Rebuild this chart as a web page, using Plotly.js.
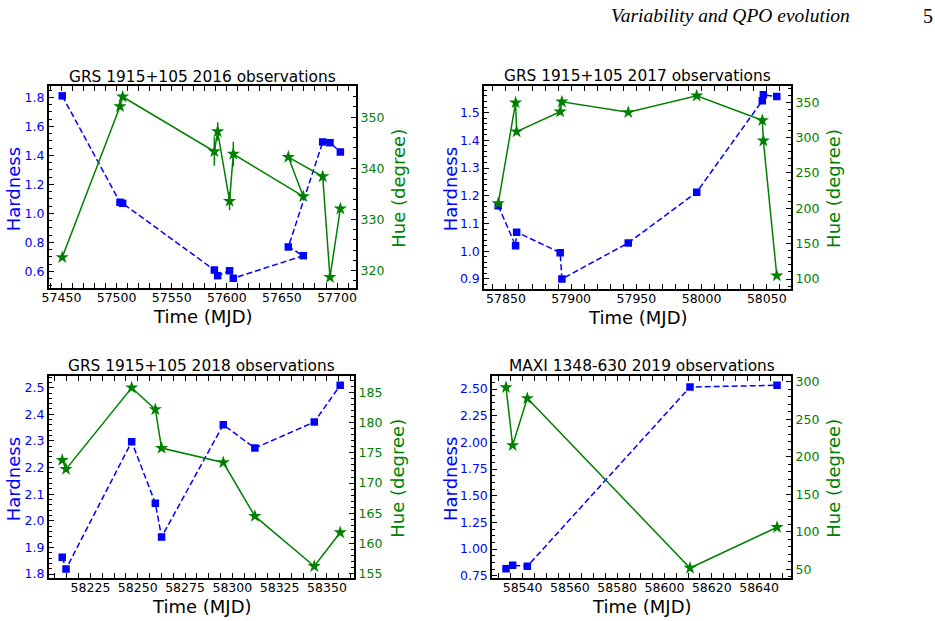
<!DOCTYPE html>
<html>
<head>
<meta charset="utf-8">
<script src="https://cdn.plot.ly/plotly-3.0.1.min.js"></script>
<style>
  html, body { margin: 0; padding: 0; background: #ffffff; }
  #chart { width: 935px; height: 621px; }
</style>
</head>
<body>
<div id="chart"></div>
<script>
// ---- GRS 1915+105, 2016 ----
const mjd16 = [57450.7, 57503.1, 57505.5, 57588.7, 57591.7, 57602.5, 57605.9, 57669.4, 57655.8, 57687.0, 57693.6, 57703.0];
const hard16 = [1.810, 1.076, 1.069, 0.609, 0.570, 0.604, 0.552, 0.708, 0.768, 1.492, 1.487, 1.423];
const hue16 = [322.6, 352.1, 354.0, 343.3, 347.2, 333.6, 342.8, 334.5, 342.2, 338.4, 318.7, 332.1];
const hueErr16 = [0, 0, 0, 2.8, 1.8, 1.8, 2.4, 0, 0, 0, 0, 0];

// ---- GRS 1915+105, 2017 ----
const mjd17 = [57844.1, 57857.4, 57858.2, 57891.6, 57892.9, 57943.8, 57996.3, 58046.6, 58047.4, 58057.7];
const hard17 = [1.164, 1.020, 1.069, 0.995, 0.900, 1.030, 1.213, 1.543, 1.564, 1.558];
const hue17 = [207.1, 349.5, 308.4, 336.7, 350.8, 335.8, 359.3, 324.5, 295.6, 104.7];
const hueErr17 = [0, 0, 0, 0, 0, 0, 0, 0, 0, 0];

// ---- GRS 1915+105, 2018 ----
const mjd18 = [58210.1, 58212.1, 58246.8, 58259.3, 58262.6, 58295.2, 58311.9, 58343.3, 58357.0];
const hard18 = [1.863, 1.819, 2.297, 2.066, 1.939, 2.361, 2.273, 2.371, 2.509];
const hue18 = [173.8, 172.3, 185.8, 182.2, 175.8, 173.4, 164.5, 156.2, 161.8];
const hueErr18 = [0, 0, 0, 0, 0, 0, 0, 0, 0];

// ---- MAXI 1348-630, 2019 ----
const mjd19 = [58533.0, 58535.8, 58542.0, 58610.8, 58647.6];
const hard19 = [0.816, 0.848, 0.838, 2.519, 2.535];
const hue19 = [292.5, 215.2, 277.9, 51.7, 106.0];
const hueErr19 = [0, 0, 0, 0, 0];

const panelTitles = [
  'GRS 1915+105 2016 observations',
  'GRS 1915+105 2017 observations',
  'GRS 1915+105 2018 observations',
  'MAXI 1348-630 2019 observations'
];

// ---- page geometry (pixels) ----
const W = 935, H = 621;
const px = v => v / W;
const py = v => 1 - v / H;

const BLUE = '#0000ff';
const GREEN = '#008000';
const FONT = 'DejaVu Sans, Verdana, sans-serif';
const TICK_SIZE = 12.5;

const panels = [
  { title: panelTitles[0], t: mjd16, h: hard16, hue: hue16, err: hueErr16,
    box: [49, 86, 356, 288], xr: [57438.7, 57717.2], xd: 50, xm: 10,
    yl: [0.485, 1.878], yld: 0.2, ylm: 0.05, ylf: '.1f',
    yr: [316.6, 356.1], yrd: 10, yrm: 2, hx: 13.3, ux: 397.7 },
  { title: panelTitles[1], t: mjd17, h: hard17, hue: hue17, err: hueErr17,
    box: [484.3, 85.7, 791, 288.7], xr: [57833.4, 58068.6], xd: 50, xm: 10,
    yl: [0.865, 1.597], yld: 0.1, ylm: 0.02, ylf: '.1f',
    yr: [86.3, 373.5], yrd: 50, yrm: 10, hx: 450, ux: 832.7 },
  { title: panelTitles[2], t: mjd18, h: hard18, hue: hue18, err: hueErr18,
    box: [49, 375.7, 354, 578.3], xr: [58203.1, 58364.3], xd: 25, xm: 6.25,
    yl: [1.784, 2.545], yld: 0.1, ylm: 0.02, ylf: '.1f',
    yr: [154.2, 187.8], yrd: 5, yrm: 1, hx: 13.3, ux: 396.7 },
  { title: panelTitles[3], t: mjd19, h: hard19, hue: hue19, err: hueErr19,
    box: [492.3, 375.7, 791, 578.3], xr: [58527.2, 58653.5], xd: 20, xm: 5,
    yl: [0.726, 2.625], yld: 0.25, ylm: 0.0625, ylf: '.2f',
    yr: [38, 308], yrd: 50, yrm: 10, hx: 450, ux: 832.7 }
];

const traces = [];
const layout = {
  width: W, height: H,
  margin: { l: 0, r: 0, t: 0, b: 0, pad: 0 },
  paper_bgcolor: '#ffffff', plot_bgcolor: '#ffffff',
  showlegend: false,
  font: { family: FONT, size: 12, color: '#000000' },
  annotations: []
};

function axisBase() {
  return {
    showline: true, linecolor: '#000000', linewidth: 2,
    ticks: 'inside', ticklen: 5, tickwidth: 1, tickcolor: '#000000',
    showgrid: false, zeroline: false, fixedrange: true
  };
}

panels.forEach((p, i) => {
  const n = i + 1;
  const xId = n === 1 ? 'x' : 'x' + n;
  const yL = n === 1 ? 'y' : 'y' + (2 * n - 1);
  const yR = 'y' + (2 * n);
  const xKey = n === 1 ? 'xaxis' : 'xaxis' + n;
  const yLKey = n === 1 ? 'yaxis' : 'yaxis' + (2 * n - 1);
  const yRKey = 'yaxis' + (2 * n);
  const [x0, y0, x1, y1] = p.box;

  layout[xKey] = Object.assign(axisBase(), {
    domain: [px(x0), px(x1)], anchor: yL, range: p.xr,
    mirror: 'allticks', dtick: p.xd, tick0: 0, tickformat: 'd',
    ticklabelstandoff: -3,
    tickfont: { family: FONT, size: TICK_SIZE, color: '#000000' },
    minor: { ticks: 'inside', ticklen: 3, tickwidth: 1, tickcolor: '#000000', dtick: p.xm, tick0: 0 }
  });
  layout[yLKey] = Object.assign(axisBase(), {
    domain: [py(y1), py(y0)], anchor: xId, side: 'left', range: p.yl,
    dtick: p.yld, tick0: 0, tickformat: p.ylf,
    tickfont: { family: FONT, size: TICK_SIZE, color: BLUE },
    minor: { ticks: 'inside', ticklen: 3, tickwidth: 1, tickcolor: '#000000', dtick: p.ylm, tick0: 0 }
  });
  layout[yRKey] = Object.assign(axisBase(), {
    overlaying: yL, anchor: xId, side: 'right', range: p.yr,
    dtick: p.yrd, tick0: 0, tickformat: 'd',
    tickfont: { family: FONT, size: TICK_SIZE, color: GREEN },
    minor: { ticks: 'inside', ticklen: 3, tickwidth: 1, tickcolor: '#000000', dtick: p.yrm, tick0: 0 }
  });

  // hardness: blue dashed line with square markers
  traces.push({
    x: p.t, y: p.h, xaxis: xId, yaxis: yL, type: 'scatter', mode: 'lines+markers',
    line: { color: BLUE, width: 1.5, dash: '6px,3px' },
    marker: { symbol: 'square', size: 7.5, color: BLUE },
    hoverinfo: 'skip'
  });
  // hue: green solid line with star markers and error bars
  traces.push({
    x: p.t, y: p.hue, xaxis: xId, yaxis: yR, type: 'scatter', mode: 'lines+markers',
    line: { color: GREEN, width: 1.5 },
    marker: { symbol: 'star', size: 10, color: GREEN },
    error_y: { type: 'data', array: p.err, visible: true, color: GREEN, thickness: 1.5, width: 0 },
    hoverinfo: 'skip'
  });

  const cx = (x0 + x1) / 2;
  layout.annotations.push(
    { text: p.title, xref: 'paper', yref: 'paper', x: px(cx), y: py(y0 - 9.3),
      xanchor: 'center', yanchor: 'middle', showarrow: false,
      font: { family: FONT, size: 15.4, color: '#000000' } },
    { text: 'Time (MJD)', xref: 'paper', yref: 'paper', x: px(cx), y: py(y1 + 28.5),
      xanchor: 'center', yanchor: 'middle', showarrow: false,
      font: { family: FONT, size: 18, color: '#000000' } },
    { text: 'Hardness', xref: 'paper', yref: 'paper', x: px(p.hx), y: py((y0 + y1) / 2 + 2),
      xanchor: 'center', yanchor: 'middle', showarrow: false, textangle: -90,
      font: { family: FONT, size: 18, color: BLUE } },
    { text: 'Hue (degree)', xref: 'paper', yref: 'paper', x: px(p.ux), y: py((y0 + y1) / 2 + 1),
      xanchor: 'center', yanchor: 'middle', showarrow: false, textangle: -90,
      font: { family: FONT, size: 18, color: GREEN } }
  );
});

// running page header
layout.annotations.push(
  { text: '<i>Variability and QPO evolution</i>', xref: 'paper', yref: 'paper',
    x: px(852), y: py(15.5), xanchor: 'right', yanchor: 'middle', showarrow: false,
    font: { family: 'Liberation Serif, Times New Roman, serif', size: 19.5, color: '#000000' } },
  { text: '5', xref: 'paper', yref: 'paper',
    x: px(928), y: py(15.5), xanchor: 'center', yanchor: 'middle', showarrow: false,
    font: { family: 'Liberation Serif, Times New Roman, serif', size: 20, color: '#000000' } }
);

Plotly.newPlot('chart', traces, layout, { staticPlot: true, displayModeBar: false });
</script>
</body>
</html>
